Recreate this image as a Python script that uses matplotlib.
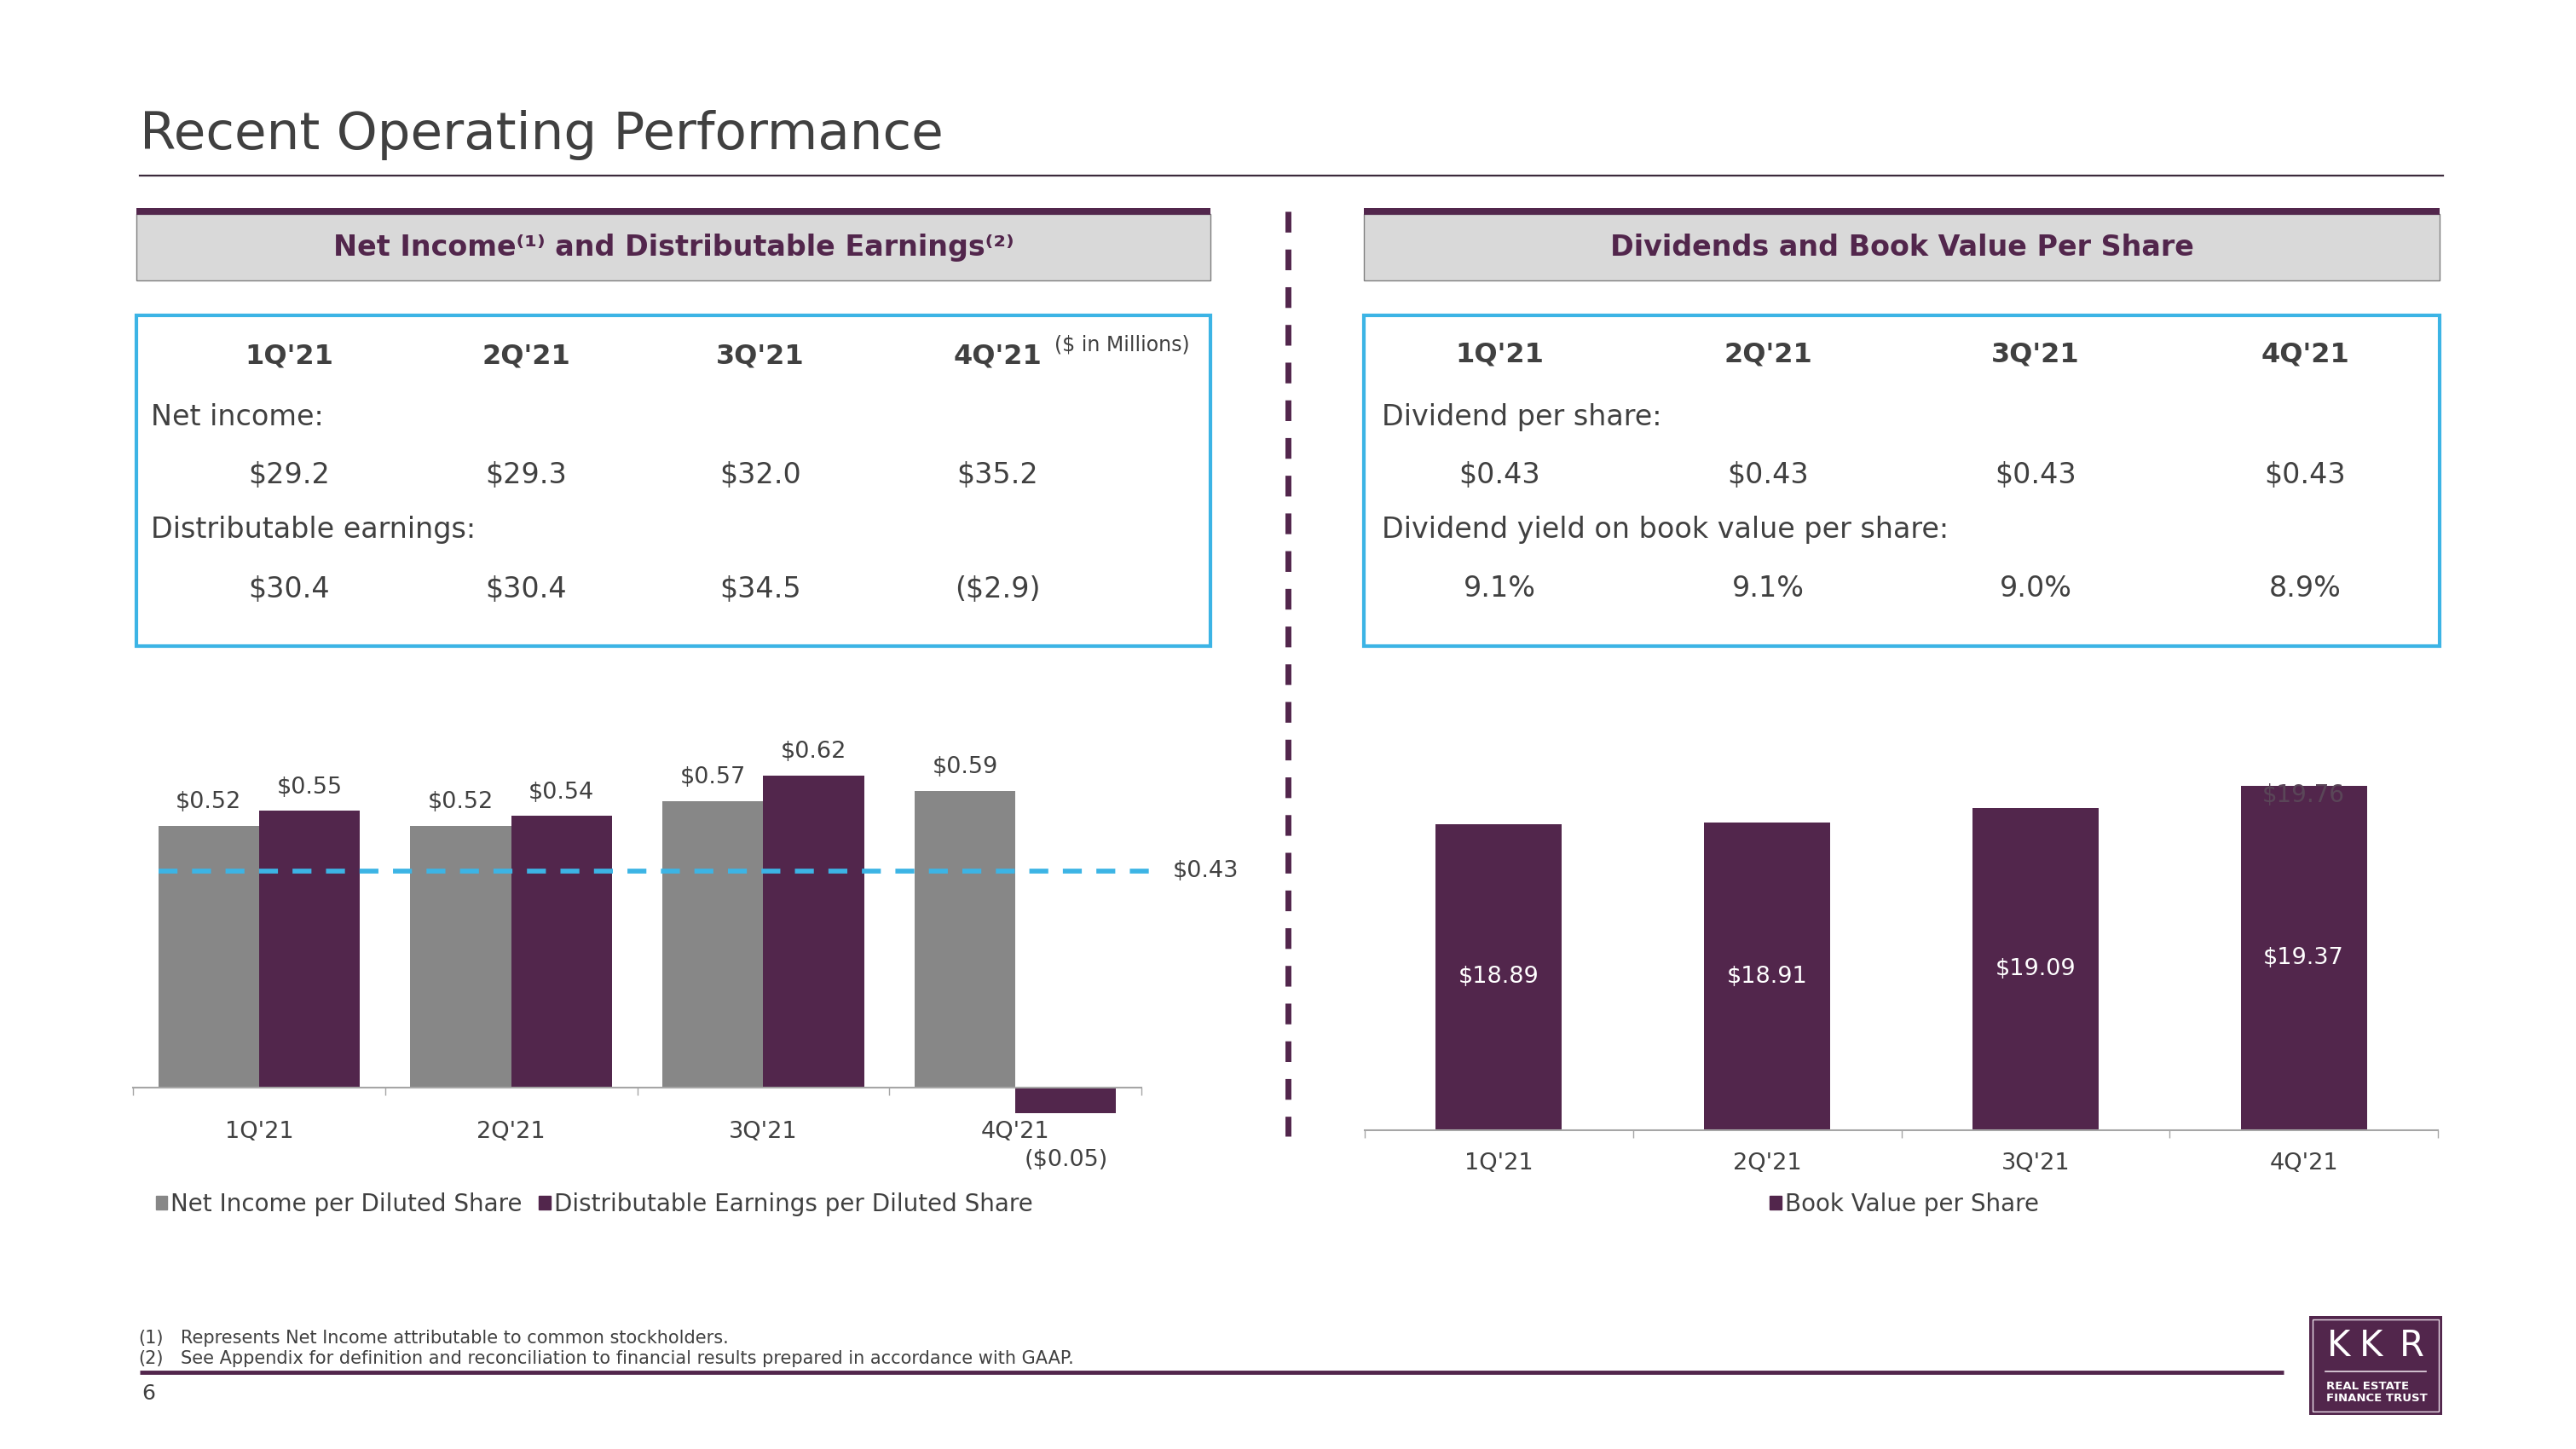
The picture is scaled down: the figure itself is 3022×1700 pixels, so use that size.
import numpy as np
import matplotlib
matplotlib.use("Agg")
import matplotlib.pyplot as plt
from matplotlib.patches import Rectangle, Patch

W, H = 3022, 1700
DPI = 100

PURPLE = '#52264c'
GRAY_BAR = '#878787'
BLUE = '#3cb4e5'
TEXT = '#404040'
HEADER_BG = '#d9d9d9'
AXIS = '#a6a6a6'

# ---- data ----
quarters = ["1Q'21", "2Q'21", "3Q'21", "4Q'21"]
net_income_m = [29.2, 29.3, 32.0, 35.2]          # $ in millions
dist_earnings_m = [30.4, 30.4, 34.5, -2.9]
net_income_ps = [0.52, 0.52, 0.57, 0.59]         # per diluted share
dist_earnings_ps = [0.55, 0.54, 0.62, -0.05]
dividend_line = 0.43
dividend_ps = [0.43, 0.43, 0.43, 0.43]
dividend_yield = [9.1, 9.1, 9.0, 8.9]
book_value_ps = [18.89, 18.91, 19.09, 19.37]
stale_label = "$19.76"   # faint leftover label on top of the 4Q bar
bv_floor = 15.05         # value axis of the book value chart does not start at 0

footnotes = ["Represents Net Income attributable to common stockholders.",
             "See Appendix for definition and reconciliation to financial results prepared in accordance with GAAP."]


def money(v, digits=2):
    s = f"${abs(v):.{digits}f}"
    return f"({s})" if v < 0 else s


def rect(x0, y0, x1, y1):
    # pixel box (top-left origin) -> figure fraction
    return [x0 / W, 1 - y1 / H, (x1 - x0) / W, (y1 - y0) / H]


plt.rcParams['font.family'] = ['DejaVu Sans']
fig = plt.figure(figsize=(W / DPI, H / DPI), dpi=DPI)
fig.patch.set_facecolor('white')

# background canvas in pixel coords
bg = fig.add_axes([0, 0, 1, 1], zorder=0)
bg.set_xlim(0, W)
bg.set_ylim(H, 0)
bg.axis('off')

# title
bg.text(164, 158, "Recent Operating Performance", fontsize=44, color=TEXT, va='center', ha='left')
bg.plot([164, 2866], [206, 206], color='#3b2a3b', lw=1.6)

# section headers
headers = [(160, 1420, "Net Income⁽¹⁾ and Distributable Earnings⁽²⁾"),
           (1600, 2862, "Dividends and Book Value Per Share")]
for x0, x1, txt in headers:
    bg.add_patch(Rectangle((x0, 251), x1 - x0, 78, facecolor=HEADER_BG, edgecolor='#7f7f7f', lw=1))
    bg.add_patch(Rectangle((x0, 244), x1 - x0, 8, facecolor=PURPLE, edgecolor='none'))
    bg.text((x0 + x1) / 2, 290, txt, fontsize=24, fontweight='bold', color=PURPLE, ha='center', va='center')

# blue boxes
bg.add_patch(Rectangle((160, 370), 1260, 388, fill=False, edgecolor=BLUE, lw=3))
bg.add_patch(Rectangle((1600, 370), 1262, 388, fill=False, edgecolor=BLUE, lw=3))

# left table
left_cols = [339, 617, 892, 1170]
for cx, q, ni, de in zip(left_cols, quarters, net_income_m, dist_earnings_m):
    bg.text(cx, 418, q, fontsize=23, fontweight='bold', color=TEXT, ha='center', va='center')
    bg.text(cx, 558, money(ni, 1), fontsize=24, color=TEXT, ha='center', va='center')
    bg.text(cx, 691, money(de, 1), fontsize=24, color=TEXT, ha='center', va='center')
bg.text(1237, 404, "($ in Millions)", fontsize=17, color=TEXT, ha='left', va='center')
bg.text(177, 489, "Net income:", fontsize=24, color=TEXT, ha='left', va='center')
bg.text(177, 621, "Distributable earnings:", fontsize=24, color=TEXT, ha='left', va='center')

# right table
right_cols = [1759, 2074, 2388, 2704]
for cx, q, d, y in zip(right_cols, quarters, dividend_ps, dividend_yield):
    bg.text(cx, 416, q, fontsize=23, fontweight='bold', color=TEXT, ha='center', va='center')
    bg.text(cx, 557, money(d), fontsize=24, color=TEXT, ha='center', va='center')
    bg.text(cx, 690, f"{y:.1f}%", fontsize=24, color=TEXT, ha='center', va='center')
bg.text(1621, 489, "Dividend per share:", fontsize=24, color=TEXT, ha='left', va='center')
bg.text(1621, 621, "Dividend yield on book value per share:", fontsize=24, color=TEXT, ha='left', va='center')

# vertical dashed separator
bg.plot([1511, 1511], [248, 1333], color=PURPLE, lw=5, dashes=(3.5, 2.87))

x = np.arange(len(quarters))

# ---- left chart: per share earnings ----
axL = fig.add_axes(rect(156, 833.5, 1339, 1335), zorder=2)
axL.patch.set_alpha(0)
axL.set_xlim(-0.5, 3.5)
axL.set_ylim(-0.1, 0.75)
axL.bar(x - 0.2, net_income_ps, width=0.4, color=GRAY_BAR, label="Net Income per Diluted Share")
axL.bar(x + 0.2, dist_earnings_ps, width=0.4, color=PURPLE, label="Distributable Earnings per Diluted Share")
for xs, vals in ((x - 0.2, net_income_ps), (x + 0.2, dist_earnings_ps)):
    for xi, v in zip(xs, vals):
        off = 20 if v >= 0 else -40
        axL.annotate(money(v), (xi, v), xytext=(0, off), textcoords='offset points',
                     ha='center', va='center', fontsize=19.5, color=TEXT)
axL.plot([-0.4, 3.578], [dividend_line] * 2, color=BLUE, lw=4.1, dashes=(3.9, 3.0), clip_on=False)
axL.text(3.625, dividend_line, money(dividend_line), fontsize=19.5, color=TEXT, ha='left', va='center')

for s in ('top', 'right', 'left'):
    axL.spines[s].set_visible(False)
axL.spines['bottom'].set_position(('data', 0))
axL.spines['bottom'].set_color(AXIS)
axL.spines['bottom'].set_linewidth(1.5)
axL.set_yticks([])
axL.set_xticks(x)
axL.set_xticklabels(quarters, fontsize=19.5, color=TEXT)
axL.set_xticks(np.arange(-0.5, 4, 1), minor=True)
axL.tick_params(axis='x', which='major', length=0, pad=28)
axL.tick_params(axis='x', which='minor', length=6.5, width=1, color=AXIS)

legL = fig.legend(handles=[Patch(color=GRAY_BAR, label="Net Income per Diluted Share"),
                           Patch(color=PURPLE, label="Distributable Earnings per Diluted Share")],
                  loc='center left', bbox_to_anchor=(183 / W, 1 - 1413 / H), bbox_transform=fig.transFigure,
                  ncol=2, frameon=False, fontsize=20, handlelength=0.48, handleheight=0.48,
                  handletextpad=0.15, columnspacing=0.7, borderpad=0, borderaxespad=0)
for t in legL.get_texts():
    t.set_color(TEXT)

# ---- right chart: book value per share ----
axR = fig.add_axes(rect(1601, 850, 2860, 1326), zorder=2)
axR.patch.set_alpha(0)
axR.set_xlim(-0.5, 3.5)
axR.set_ylim(bv_floor, bv_floor + 476 / 93.5)
axR.bar(x, book_value_ps, width=0.47, color=PURPLE, bottom=0)
for xi, v in zip(x, book_value_ps):
    axR.text(xi, (bv_floor + v) / 2, money(v), fontsize=19.5, color='white', ha='center', va='center')
axR.annotate(stale_label, (x[-1], book_value_ps[-1]), xytext=(0, -8), textcoords='offset points',
             ha='center', va='center', fontsize=20, color='#5a4658')
for s in ('top', 'right', 'left'):
    axR.spines[s].set_visible(False)
axR.spines['bottom'].set_color(AXIS)
axR.spines['bottom'].set_linewidth(1.5)
axR.set_yticks([])
axR.set_xticks(x)
axR.set_xticklabels(quarters, fontsize=19.5, color=TEXT)
axR.set_xticks(np.arange(-0.5, 4, 1), minor=True)
axR.tick_params(axis='x', which='major', length=0, pad=19)
axR.tick_params(axis='x', which='minor', length=6.5, width=1, color=AXIS)

legR = fig.legend(handles=[Patch(color=PURPLE, label="Book Value per Share")],
                  loc='center', bbox_to_anchor=(2234 / W, 1 - 1413 / H), bbox_transform=fig.transFigure,
                  frameon=False, fontsize=20, handlelength=0.48, handleheight=0.48,
                  handletextpad=0.15, borderpad=0, borderaxespad=0)
for t in legR.get_texts():
    t.set_color(TEXT)

# ---- footer ----
for i, note in enumerate(footnotes):
    yy = 1570 + 24 * i
    bg.text(162, yy, f"({i + 1})", fontsize=15, color=TEXT, ha='left', va='center')
    bg.text(212, yy, note, fontsize=15, color=TEXT, ha='left', va='center')
bg.plot([164, 2679], [1610, 1610], color=PURPLE, lw=3.5, solid_capstyle='butt')
bg.text(166, 1635, "6", fontsize=18, color=TEXT, ha='left', va='center')

# logo
bg.add_patch(Rectangle((2709, 1544), 156, 116, facecolor=PURPLE, edgecolor='none'))
bg.add_patch(Rectangle((2713, 1548), 148, 108, fill=False, edgecolor='#e8dce6', lw=1))
for lx, ch in zip([2744, 2782, 2829], "KKR"):
    bg.text(lx, 1579, ch, fontsize=30, color='white', ha='center', va='center')
bg.plot([2728, 2846], [1609, 1609], color='#e8dce6', lw=1.2)
bg.text(2729, 1626, "REAL ESTATE", fontsize=9.5, fontweight='bold', color='white', ha='left', va='center')
bg.text(2729, 1641, "FINANCE TRUST", fontsize=9.5, fontweight='bold', color='white', ha='left', va='center')

fig.savefig("out.png", dpi=DPI, facecolor='white')
